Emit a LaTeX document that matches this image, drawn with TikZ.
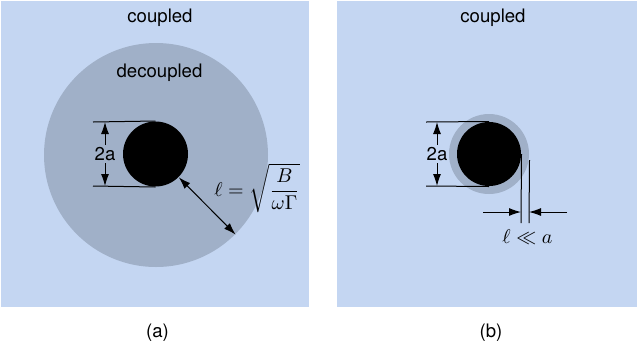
\documentclass[tikz,border=0pt]{standalone}
\usepackage{amsmath}
\usepackage{fontspec}
\setmainfont{TeX Gyre Heros}
\usepackage{tikz}
\usetikzlibrary{arrows.meta, positioning}
\definecolor{couplebg}{RGB}{196,214,242}
\definecolor{decouplegray}{RGB}{160,176,200}

\begin{document}
\begin{tikzpicture}[x=0.5pt, y=-0.5pt, >={Latex[length=6pt,width=4pt]}, line width=0.5pt,
    font=\fontsize{9.3}{11}\selectfont]
    \useasboundingbox (0,0) rectangle (637,355);

    % Panel (a): coupled background, decoupled zone, hole
    \fill[couplebg] (1,1) rectangle (309,307);
    \node[circle, fill=decouplegray, inner sep=0, minimum size=112pt] (zoneA) at (156,155) {};
    \node[circle, fill=black, inner sep=0, minimum size=32.5pt] (holeA) at (155.5,154) {};
    \node (coupA) at (160,18) {coupled};
    \node (decoupA) at (159.5,73) {decoupled};

    % 2a dimension (a)
    \draw (93,122) -- (holeA.north);
    \draw (93,186) -- (holeA.south);
    \draw[<->] (105,122) -- node[fill=decouplegray, inner sep=1pt] {2a} (105,186);

    % length l (a)
    \draw[<->] (holeA.-45) -- (zoneA.-45);
    \node[font=\fontsize{9.6}{11}\selectfont] (lenA) at (257,188) {$\ell=\sqrt{\dfrac{B}{\omega\Gamma}}$};

    % Panel (b)
    \fill[couplebg] (337,1) rectangle (637,307);
    \node[circle, fill=decouplegray, inner sep=0, minimum size=40pt] (zoneB) at (489,154) {};
    \node[circle, fill=black, inner sep=0, minimum size=32pt] (holeB) at (489,154) {};
    \node (coupB) at (493,18) {coupled};

    % 2a dimension (b)
    \draw (426,122) -- (holeB.north);
    \draw (426,186) -- (holeB.south);
    \draw[<->] (437,122) -- node[fill=couplebg, inner sep=1pt] {2a} (437,186);

    % length l (b)
    \coordinate (tickL) at (521,223);
    \coordinate (tickR) at (529,223);
    \draw (holeB.east) -- (tickL);
    \draw (zoneB.east) ++(0,6) -- (tickR);
    \coordinate (arrL) at (483,212);
    \coordinate (arrR) at (567,212);
    \draw[->] (arrL) -- (521,212);
    \draw[->] (arrR) -- (529,212);
    \node[font=\fontsize{9.6}{11}\selectfont] (lenB) at (527.5,237) {$\ell\ll a$};

    % captions
    \node (capA) at (157.5,333) {(a)};
    \node (capB) at (491,333) {(b)};
\end{tikzpicture}
\end{document}
